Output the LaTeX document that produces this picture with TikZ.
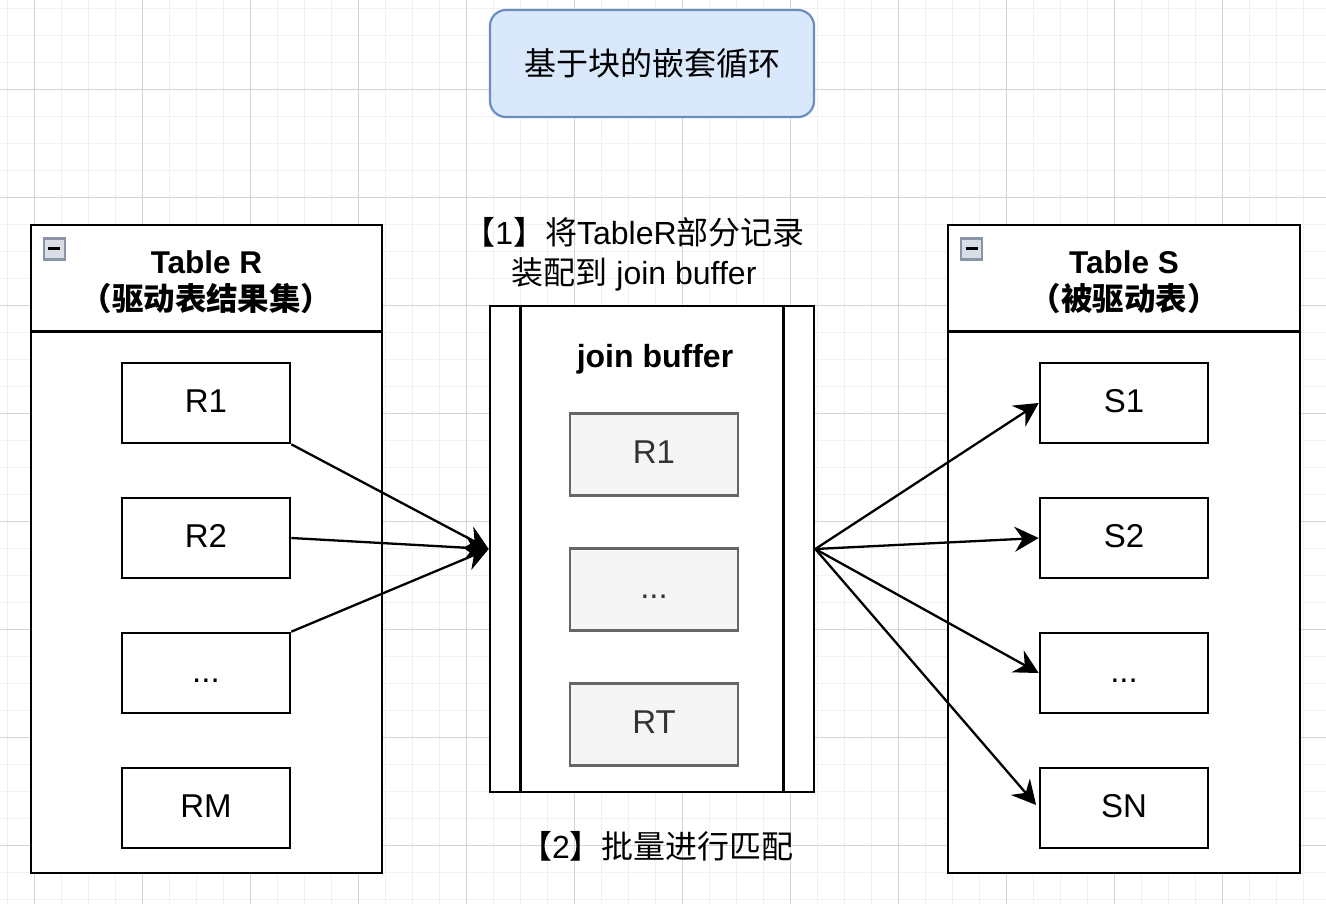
\documentclass[tikz,border=0pt]{standalone}
\usepackage{fontspec}
\setmainfont{Liberation Sans}
\newfontfamily\cjk{Noto Sans CJK SC}
\usetikzlibrary{arrows.meta}
\definecolor{titlefill}{HTML}{DAE8FC}
\definecolor{titledraw}{HTML}{6C8EBF}
\definecolor{cellfill}{HTML}{F5F5F5}
\definecolor{celldraw}{HTML}{666666}
\definecolor{celltext}{HTML}{333333}
\definecolor{gridminor}{HTML}{F1F1F1}
\definecolor{gridmajor}{HTML}{D4D4D4}
\definecolor{iconfill}{HTML}{D9DDE6}
\definecolor{icondraw}{HTML}{8A94A8}
\tikzset{
  txt/.style={font=\fontsize{33}{40}\selectfont},
  rowbox/.style={draw=black, line width=2.6pt, fill=white, minimum width=168pt, minimum height=80pt, inner sep=0pt, txt, text height=22pt, text depth=4pt},
  cellbox/.style={draw=celldraw, line width=2.6pt, fill=cellfill, text=celltext, minimum width=168pt, minimum height=82pt, inner sep=0pt, txt, text height=22pt, text depth=4pt},
  tablebox/.style={draw=black, line width=2.6pt, fill=white, minimum height=648pt, inner sep=0pt},
  headtxt/.style={font=\fontsize{31.5}{37}\selectfont\bfseries, align=center, inner sep=0pt},
  minusicon/.style={draw=icondraw, fill=iconfill, line width=2.4pt, minimum size=21pt, inner sep=0pt,
    path picture={\draw[black, line width=3pt] ([xshift=4.5pt]path picture bounding box.west) -- ([xshift=-4.5pt]path picture bounding box.east);}},
  conn/.style={line width=2.3pt, -{Stealth[length=24pt, width=25pt, inset=8pt]}},
  lbl/.style={font=\fontsize{32}{40}\selectfont, align=center, inner sep=0pt}
}
\begin{document}
\begin{tikzpicture}[x=1pt,y=-1pt]
\useasboundingbox (0,0) rectangle (1326,904);
\fill[white] (0,0) rectangle (1326,904);
% grid
\foreach \i in {0,...,49} {\draw[gridminor, line width=1.4pt] ({7.3+27*\i},0) -- ({7.3+27*\i},904);}
\foreach \i in {0,...,33} {\draw[gridminor, line width=1.4pt] (0,{8.3+27*\i}) -- (1326,{8.3+27*\i});}
\foreach \i in {0,...,11} {\draw[gridmajor, line width=1.1pt] ({34.3+108*\i},0) -- ({34.3+108*\i},904);}
\foreach \i in {0,...,7} {\draw[gridmajor, line width=1.1pt] (0,{89.3+108*\i}) -- (1326,{89.3+108*\i});}

% title
\node[draw=titledraw, fill=titlefill, line width=2.2pt, rounded corners=16pt, minimum width=324pt, minimum height=107pt, inner sep=0pt, font=\fontsize{32}{40}\selectfont\cjk] (title) at (652,63.5) {基于块的嵌套循环};

% Table R
\node[tablebox, minimum width=351pt] (tabR) at (206.5,549) {};
\draw[line width=2.6pt] ([yshift=-108pt]tabR.north west) -- ([yshift=-108pt]tabR.north east);
\node[minusicon] (iconR) at (54.2,249) {};
\node[headtxt] (headR) at (206.5,282) {Table R\\{\cjk\bfseries （驱动表结果集）}};
\node[rowbox] (R1) at (206,403) {R1};
\node[rowbox] (R2) at (206,538) {R2};
\node[rowbox] (Rd) at (206,673) {...};
\node[rowbox] (RM) at (206,808) {RM};

% Table S
\node[tablebox, minimum width=352pt] (tabS) at (1124,549) {};
\draw[line width=2.6pt] ([yshift=-108pt]tabS.north west) -- ([yshift=-108pt]tabS.north east);
\node[minusicon] (iconS) at (971.7,249) {};
\node[headtxt] (headS) at (1124,282) {Table S\\{\cjk\bfseries （被驱动表）}};
\node[rowbox] (S1) at (1124,403) {S1};
\node[rowbox] (S2) at (1124,538) {S2};
\node[rowbox] (Sd) at (1124,673) {...};
\node[rowbox] (SN) at (1124,808) {SN};

% join buffer
\node[draw=black, line width=2.6pt, fill=white, minimum width=324pt, minimum height=486pt, inner sep=0pt] (jb) at (652,549) {};
\draw[line width=2.6pt] ([xshift=32pt]jb.north west) -- ([xshift=32pt]jb.south west);
\draw[line width=2.6pt] ([xshift=-32pt]jb.north east) -- ([xshift=-32pt]jb.south east);
\node[font=\fontsize{32}{37}\selectfont\bfseries, inner sep=0pt] (jbl) at (655,359) {join buffer};
\node[cellbox] (B1) at (654,454.5) {R1};
\node[cellbox] (Bd) at (654,589.5) {...};
\node[cellbox] (BT) at (654,724.5) {RT};

% labels
\node[lbl] (l1) at (634,254) {{\cjk 【}1{\cjk 】将}TableR{\cjk 部分记录}\\{\cjk 装配到} join buffer};
\node[lbl] (l2) at (657,846) {{\cjk 【}2{\cjk 】批量进行匹配}};

% connectors
\draw[conn] (R1.south east) -- (jb.west);
\draw[conn] (R2.east) -- (jb.west);
\draw[conn] (Rd.north east) -- (jb.west);
\draw[conn] (jb.east) -- (S1.west);
\draw[conn] (jb.east) -- (S2.west);
\draw[conn] (jb.east) -- (Sd.west);
\draw[conn, shorten >=4pt] (jb.east) -- (SN.west);
\end{tikzpicture}
\end{document}
